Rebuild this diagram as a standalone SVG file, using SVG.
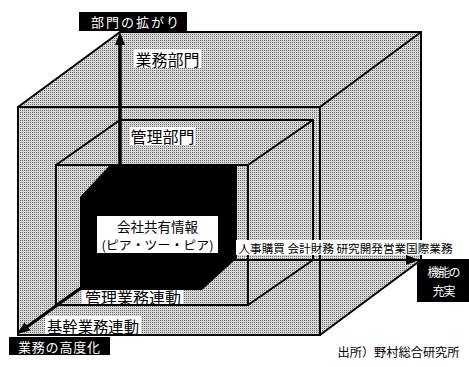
<svg xmlns="http://www.w3.org/2000/svg" width="469" height="367" viewBox="0 0 469 367">
<style>
.edge{fill:none;stroke:#000;stroke-width:2;stroke-linejoin:miter}
.conn{fill:none;stroke:#000;marker-end:url(#ah)}
.wbg{fill:#fff}
.bbg{fill:#000}
.t{font-family:"Noto Sans CJK JP","Noto Sans",sans-serif;text-anchor:middle;dominant-baseline:central;fill:#000}
.tw{font-family:"Noto Sans CJK JP","Noto Sans",sans-serif;text-anchor:middle;dominant-baseline:central;fill:#fff}
</style>
<defs>
<pattern id="dots" width="2" height="2" patternUnits="userSpaceOnUse">
<rect width="2" height="2" fill="#d8d8d8"/>
<rect width="1" height="1" fill="#6a6a6a"/>
</pattern>
<marker id="ah" markerUnits="userSpaceOnUse" viewBox="0 0 13 10" markerWidth="13" markerHeight="10" refX="4" refY="5" orient="auto">
<path d="M0,0 L13,5 L0,10 z" fill="#000"/>
</marker>
</defs>
<rect width="469" height="367" fill="#fff"/>

<g id="outer-box">
<polygon points="18,107 120,32 421,32 421,260 320,335 18,335" fill="url(#dots)"/>
<rect class="edge" x="18" y="107" width="302" height="228"/>
<polyline class="edge" points="18,107 120,32 421,32 421,260"/>
<line class="edge" x1="320" y1="107" x2="421" y2="32"/>
<line class="edge" x1="320" y1="335" x2="421" y2="260"/>
<rect class="wbg" x="134" y="49" width="67" height="19"/>
<text class="t" x="167.5" y="58.5" font-size="16">業務部門</text>
<rect class="wbg" x="45" y="316" width="96" height="18"/>
<text class="t" x="93" y="325.5" font-size="15.5" textLength="92" lengthAdjust="spacingAndGlyphs">基幹業務連動</text>
</g>

<g id="middle-box">
<rect class="edge" x="56" y="165" width="192" height="140"/>
<polyline class="edge" points="56,165 120,120 313,120 313,260"/>
<line class="edge" x1="248" y1="165" x2="313" y2="120"/>
<line class="edge" x1="248" y1="305" x2="313" y2="260"/>
<line class="edge" x1="56" y1="305" x2="120" y2="260"/>
<rect class="wbg" x="130" y="127" width="65" height="18"/>
<text class="t" x="162.5" y="136" font-size="16">管理部門</text>
<rect class="wbg" x="82" y="288" width="101" height="16"/>
<text class="t" x="133" y="296.5" font-size="16" textLength="96" lengthAdjust="spacingAndGlyphs">管理業務連動</text>
</g>

<g id="connectors">
<line class="conn" x1="120" y1="260" x2="120" y2="41" stroke-width="3.5"/>
<line class="conn" x1="120" y1="260" x2="410" y2="260" stroke-width="2"/>
<line class="conn" x1="120" y1="260" x2="24.3" y2="328.7" stroke-width="3"/>
</g>

<g id="shared-info">
<polygon points="80,197 110,165 237,165 237,258 202,290 80,290" fill="#000"/>
<rect class="wbg" x="97" y="216" width="121" height="37"/>
<text class="t" x="157.5" y="225.5" font-size="13.5">会社共有情報</text>
<text class="t" x="157.5" y="244" font-size="12.5" textLength="112" lengthAdjust="spacingAndGlyphs">(ピア・ツー・ピア)</text>
</g>

<g id="axis-functions">
<rect class="wbg" x="236" y="240" width="219" height="15"/>
<text class="t" x="345.5" y="247.5" font-size="11.5" textLength="214" lengthAdjust="spacingAndGlyphs">人事購買 会計財務 研究開発営業国際業務</text>
</g>

<g id="label-dept">
<rect class="bbg" x="79" y="12" width="108" height="19"/>
<text class="tw" x="135" y="21.5" font-size="13" textLength="88" lengthAdjust="spacing">部門の拡がり</text>
</g>

<g id="label-function">
<rect class="bbg" x="417" y="259" width="52" height="43"/>
<text class="tw" x="444" y="271.5" font-size="12" textLength="33" lengthAdjust="spacing">機能の</text>
<text class="tw" x="444" y="290.5" font-size="12" textLength="23" lengthAdjust="spacing">充実</text>
</g>

<g id="label-advance">
<rect class="bbg" x="9" y="337" width="101" height="18"/>
<text class="tw" x="59" y="346" font-size="13" textLength="82" lengthAdjust="spacing">業務の高度化</text>
</g>

<g id="source">
<text class="t" x="398.5" y="351" font-size="12" textLength="122" lengthAdjust="spacingAndGlyphs">出所）野村総合研究所</text>
</g>
</svg>
